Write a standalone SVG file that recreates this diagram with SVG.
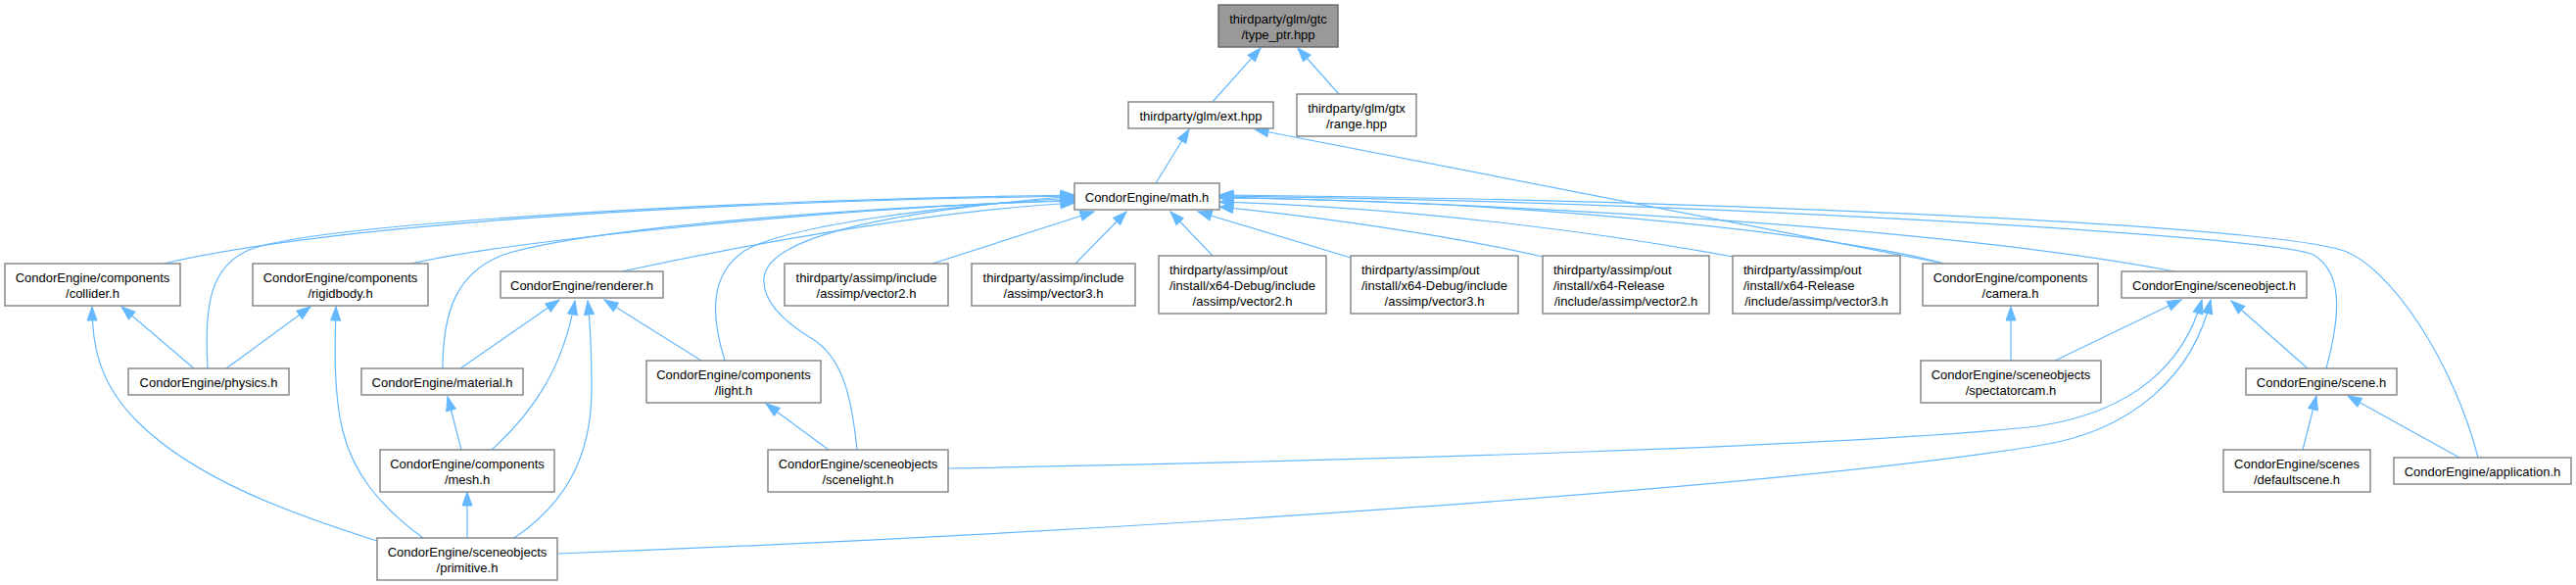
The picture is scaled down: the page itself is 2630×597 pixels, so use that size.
<svg xmlns="http://www.w3.org/2000/svg" width="2630" height="597" viewBox="0 0 2630 597">
<style>
.n rect{fill:#ffffff;stroke:#808080;stroke-width:1.4}
.root rect{fill:#999999;stroke:#666666}
.n text{font-family:"Liberation Sans",Arial,Helvetica,sans-serif;font-size:13px;fill:#000000;text-anchor:middle}
.n text.l{text-anchor:start}
#edges path{fill:none;stroke:#63b8ff;stroke-width:1.2;marker-end:url(#ah)}
</style>
<defs>
<marker id="ah" markerUnits="userSpaceOnUse" markerWidth="14" markerHeight="10" viewBox="0 0 14 10" refX="14" refY="5" orient="auto" overflow="visible">
<path d="M0,0 L14,5 L0,10 z" fill="#63b8ff" stroke="#63b8ff" stroke-width="1"/>
</marker>
</defs>
<rect width="2630" height="597" fill="#ffffff"/>
<g id="edges">
<path d="M1238,104 L1287,49"/>
<path d="M1367,96 L1325,49"/>
<path d="M1180,187 L1214,132"/>
<path d="M1985,269 L1281,132"/>
<path d="M167,269 C300,238 600,208 1097,200"/>
<path d="M212,376 C208,310 215,268 260,253 C330,230 700,205 1097,199"/>
<path d="M420,269 C500,250 800,215 1097,204"/>
<path d="M635,277 C750,252 950,215 1097,207"/>
<path d="M452,376 C452,320 465,275 520,258 C620,230 900,210 1097,205"/>
<path d="M740,368 C725,320 725,280 760,256 C800,232 950,210 1097,202"/>
<path d="M875,459 C870,410 862,365 828,345 C795,325 778,305 780,283 C784,250 860,220 1097,200"/>
<path d="M952,269 L1117,216"/>
<path d="M1098,269 L1150,216"/>
<path d="M1238,261 L1195,216"/>
<path d="M1379,263 L1223,216"/>
<path d="M1575,262 C1480,240 1350,222 1245,211"/>
<path d="M1769,262 C1650,240 1450,212 1245,206"/>
<path d="M1985,269 C1900,245 1600,205 1245,202"/>
<path d="M2220,277 C2000,235 1600,210 1245,201"/>
<path d="M2375,376 C2390,320 2392,278 2362,260 C2320,240 1700,205 1245,200"/>
<path d="M2530,467 C2505,370 2440,270 2390,255 C2300,228 1700,203 1245,199"/>
<path d="M198,376 L124,313"/>
<path d="M231,376 L317,313"/>
<path d="M385,552 C300,525 200,490 140,430 C100,390 94,350 94,313"/>
<path d="M432,549 C385,515 360,480 350,440 C340,400 342,350 343,313"/>
<path d="M470,376 L571,306"/>
<path d="M471,459 L457,405"/>
<path d="M502,459 C545,420 575,375 587,307"/>
<path d="M525,549 C575,515 603,470 604,400 C604,350 602,325 600,307"/>
<path d="M477,549 L477,502"/>
<path d="M716,368 L617,306"/>
<path d="M846,459 L782,412"/>
<path d="M968,478 C1400,470 1900,455 2080,435 C2180,420 2230,370 2248,306"/>
<path d="M569,565 C1100,545 1800,500 2080,455 C2180,440 2240,380 2257,306"/>
<path d="M2053,368 L2053,313"/>
<path d="M2098,368 L2227,306"/>
<path d="M2356,376 L2278,307"/>
<path d="M2351,459 L2365,404"/>
<path d="M2511,467 L2397,404"/>
</g>
<g id="n_typeptr" class="n root"><rect x="1244" y="5" width="122" height="43"/><text x="1305" y="23.5">thirdparty/glm/gtc</text><text x="1305" y="39.5">/type_ptr.hpp</text></g>
<g id="n_ext" class="n"><rect x="1152" y="104" width="148" height="27"/><text x="1226" y="122.5">thirdparty/glm/ext.hpp</text></g>
<g id="n_range" class="n"><rect x="1324" y="96" width="122" height="43"/><text x="1385" y="114.5">thirdparty/glm/gtx</text><text x="1385" y="130.5">/range.hpp</text></g>
<g id="n_math" class="n"><rect x="1097" y="187" width="148" height="27"/><text x="1171" y="205.5">CondorEngine/math.h</text></g>
<g id="n_collider" class="n"><rect x="5" y="269" width="179" height="43"/><text x="94.5" y="287.5">CondorEngine/components</text><text x="94.5" y="303.5">/collider.h</text></g>
<g id="n_rigidbody" class="n"><rect x="258" y="269" width="179" height="43"/><text x="347.5" y="287.5">CondorEngine/components</text><text x="347.5" y="303.5">/rigidbody.h</text></g>
<g id="n_renderer" class="n"><rect x="511" y="277" width="166" height="27"/><text x="594" y="295.5">CondorEngine/renderer.h</text></g>
<g id="n_incv2" class="n"><rect x="801" y="269" width="167" height="43"/><text x="884.5" y="287.5">thirdparty/assimp/include</text><text x="884.5" y="303.5">/assimp/vector2.h</text></g>
<g id="n_incv3" class="n"><rect x="992" y="269" width="167" height="43"/><text x="1075.5" y="287.5">thirdparty/assimp/include</text><text x="1075.5" y="303.5">/assimp/vector3.h</text></g>
<g id="n_dbgv2" class="n"><rect x="1183" y="261" width="171" height="59"/><text class="l" x="1194" y="279.5">thirdparty/assimp/out</text><text class="l" x="1194" y="295.5">/install/x64-Debug/include</text><text x="1268.5" y="311.5">/assimp/vector2.h</text></g>
<g id="n_dbgv3" class="n"><rect x="1379" y="261" width="171" height="59"/><text class="l" x="1390" y="279.5">thirdparty/assimp/out</text><text class="l" x="1390" y="295.5">/install/x64-Debug/include</text><text x="1464.5" y="311.5">/assimp/vector3.h</text></g>
<g id="n_relv2" class="n"><rect x="1575" y="261" width="170" height="59"/><text class="l" x="1586" y="279.5">thirdparty/assimp/out</text><text class="l" x="1586" y="295.5">/install/x64-Release</text><text x="1660" y="311.5">/include/assimp/vector2.h</text></g>
<g id="n_relv3" class="n"><rect x="1769" y="261" width="171" height="59"/><text class="l" x="1780" y="279.5">thirdparty/assimp/out</text><text class="l" x="1780" y="295.5">/install/x64-Release</text><text x="1854.5" y="311.5">/include/assimp/vector3.h</text></g>
<g id="n_camera" class="n"><rect x="1963" y="269" width="179" height="43"/><text x="2052.5" y="287.5">CondorEngine/components</text><text x="2052.5" y="303.5">/camera.h</text></g>
<g id="n_sceneobject" class="n"><rect x="2166" y="277" width="189" height="27"/><text x="2260.5" y="295.5">CondorEngine/sceneobject.h</text></g>
<g id="n_physics" class="n"><rect x="131" y="376" width="164" height="27"/><text x="213" y="394.5">CondorEngine/physics.h</text></g>
<g id="n_material" class="n"><rect x="369" y="376" width="165" height="27"/><text x="451.5" y="394.5">CondorEngine/material.h</text></g>
<g id="n_light" class="n"><rect x="660" y="368" width="178" height="43"/><text x="749" y="386.5">CondorEngine/components</text><text x="749" y="402.5">/light.h</text></g>
<g id="n_spectatorcam" class="n"><rect x="1961" y="368" width="184" height="43"/><text x="2053" y="386.5">CondorEngine/sceneobjects</text><text x="2053" y="402.5">/spectatorcam.h</text></g>
<g id="n_scene" class="n"><rect x="2293" y="376" width="154" height="27"/><text x="2370" y="394.5">CondorEngine/scene.h</text></g>
<g id="n_mesh" class="n"><rect x="388" y="459" width="178" height="43"/><text x="477" y="477.5">CondorEngine/components</text><text x="477" y="493.5">/mesh.h</text></g>
<g id="n_scenelight" class="n"><rect x="784" y="459" width="184" height="43"/><text x="876" y="477.5">CondorEngine/sceneobjects</text><text x="876" y="493.5">/scenelight.h</text></g>
<g id="n_defaultscene" class="n"><rect x="2270" y="459" width="150" height="43"/><text x="2345" y="477.5">CondorEngine/scenes</text><text x="2345" y="493.5">/defaultscene.h</text></g>
<g id="n_application" class="n"><rect x="2444" y="467" width="181" height="27"/><text x="2534.5" y="485.5">CondorEngine/application.h</text></g>
<g id="n_primitive" class="n"><rect x="385" y="549" width="184" height="43"/><text x="477" y="567.5">CondorEngine/sceneobjects</text><text x="477" y="583.5">/primitive.h</text></g>
</svg>
